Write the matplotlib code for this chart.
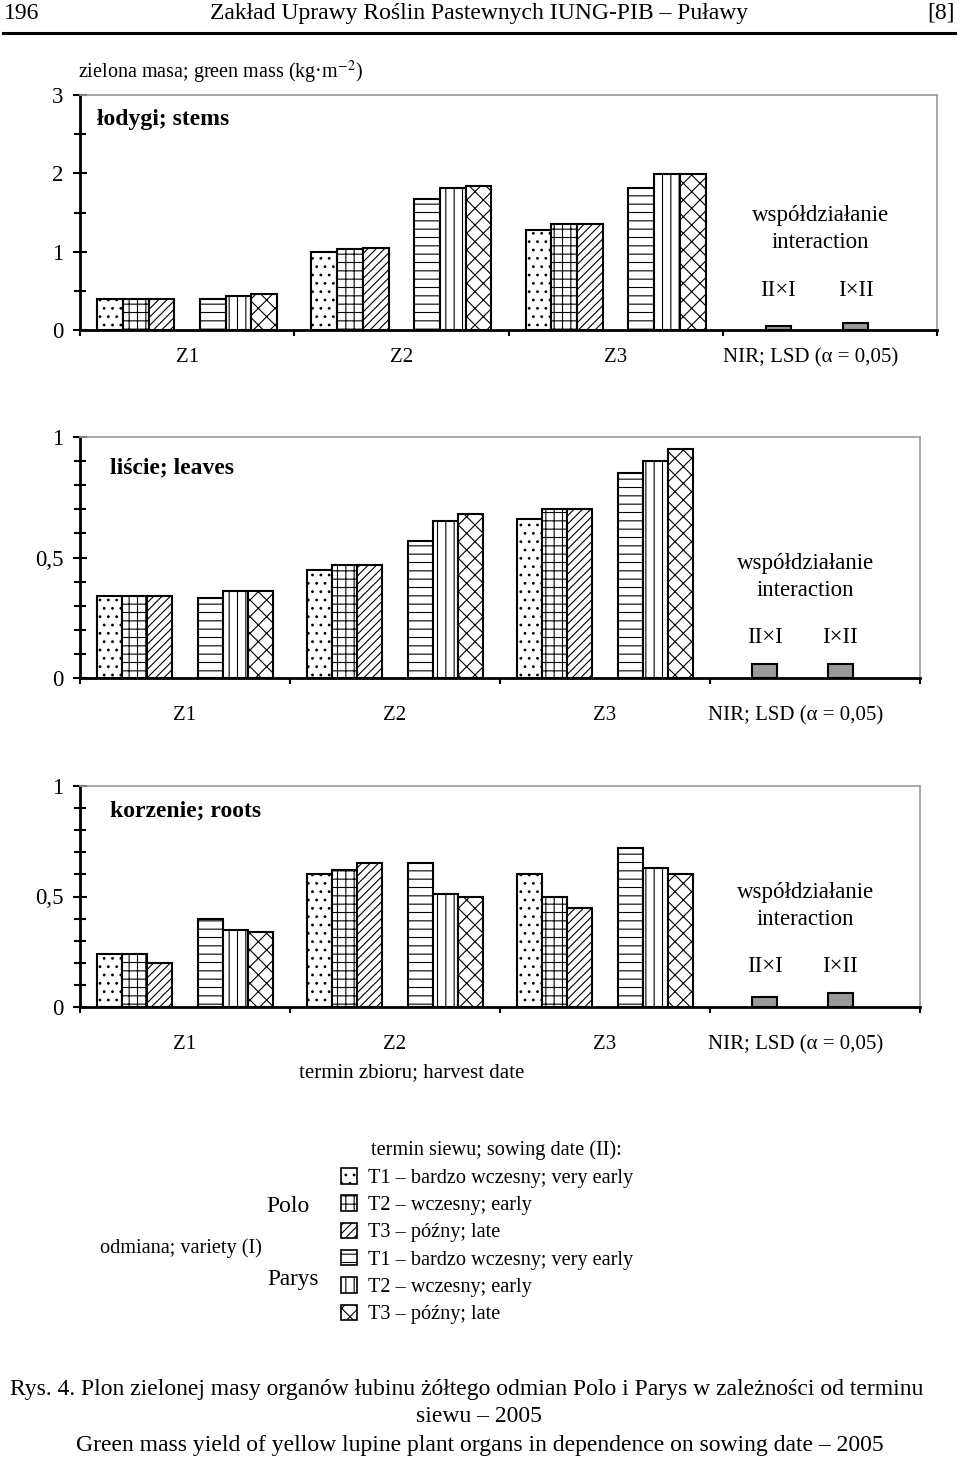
import numpy as np
import matplotlib
matplotlib.use("Agg")
import matplotlib.pyplot as plt
from matplotlib.lines import Line2D
from matplotlib.patches import Patch

plt.rcParams['font.family'] = ['Liberation Serif', 'DejaVu Serif']
plt.rcParams['mathtext.fontset'] = 'stix'
plt.rcParams['hatch.linewidth'] = 0.8

# Data (kg per m2), one list per sowing series, values for Z1, Z2, Z3
harvest = ['Z1', 'Z2', 'Z3']
series = ['T1 – bardzo wczesny; very early', 'T2 – wczesny; early', 'T3 – późny; late',
          'T1 – bardzo wczesny; very early', 'T2 – wczesny; early', 'T3 – późny; late']
hatches = ['..', '++', '////', '--', '||', 'xx']

stems = [[0.40, 1.00, 1.28],
         [0.40, 1.03, 1.35],
         [0.40, 1.05, 1.35],
         [0.40, 1.67, 1.81],
         [0.43, 1.81, 1.99],
         [0.46, 1.84, 1.99]]
leaves = [[0.34, 0.45, 0.66],
          [0.34, 0.47, 0.70],
          [0.34, 0.47, 0.70],
          [0.33, 0.57, 0.85],
          [0.36, 0.65, 0.90],
          [0.36, 0.68, 0.95]]
roots = [[0.24, 0.60, 0.60],
         [0.24, 0.62, 0.50],
         [0.20, 0.65, 0.45],
         [0.40, 0.65, 0.72],
         [0.35, 0.51, 0.63],
         [0.34, 0.50, 0.60]]

lsd_labels = ['II×I', 'I×II']
lsd_stems = [0.055, 0.085]
lsd_leaves = [0.057, 0.057]
lsd_roots = [0.044, 0.062]

w = 0.12
offsets = np.array([-3, -2, -1, 1, 2, 3]) * w
lsd_offsets = np.array([-2, 1]) * w

fig = plt.figure(figsize=(9.6, 14.62), dpi=100)
W, H = 960.0, 1462.0


def panel(rect, values, lsd, ymax, major, major_lbl, minor, title, title_pos,
          inter_y, xpad):
    ax = fig.add_axes(rect)
    x = np.arange(len(harvest))
    for i in range(6):
        ax.bar(x + offsets[i], values[i], width=w, color='white', edgecolor='black',
               hatch=hatches[i], linewidth=1.5, zorder=3)
    ax.bar(3 + lsd_offsets, lsd, width=w, color='#9a9a9a', edgecolor='black',
           linewidth=1.5, zorder=3)

    ax.set_xlim(-0.5, 3.5)
    ax.set_ylim(0, ymax)
    ax.set_yticks(major)
    ax.set_yticklabels(major_lbl, fontsize=16.5)
    ax.set_yticks(minor, minor=True)
    ax.tick_params(axis='y', which='major', direction='inout', length=10, width=1.5, pad=7)
    ax.tick_params(axis='y', which='minor', direction='inout', length=8.5, width=1.5)

    ax.set_xticks([-0.5, 0.5, 1.5, 2.5, 3.5], minor=True)
    ax.set_xticks([0, 1, 2, 2.91])
    ax.set_xticklabels(harvest + ['NIR; LSD (α = 0,05)'], fontsize=15)
    ax.tick_params(axis='x', which='major', length=0, pad=xpad)
    ax.tick_params(axis='x', which='minor', direction='out', length=4, width=1.5)

    for s in ['left', 'bottom']:
        ax.spines[s].set_linewidth(2)
    for s in ['top', 'right']:
        ax.spines[s].set_color('#9a9a9a')
        ax.spines[s].set_linewidth(1.2)

    ax.text(title_pos[0], title_pos[1], title, transform=ax.transAxes,
            fontsize=17, fontweight='bold', va='center', ha='left')
    tr = ax.get_xaxis_transform()
    ax.text(3 - 0.045, inter_y[0], 'współdziałanie', transform=tr, fontsize=16.5,
            ha='center', va='center')
    ax.text(3 - 0.045, inter_y[1], 'interaction', transform=tr, fontsize=16.5,
            ha='center', va='center')
    for k in range(2):
        ax.text(3 + lsd_offsets[k], inter_y[2], lsd_labels[k], transform=tr,
                fontsize=16.5, ha='center', va='center')
    return ax


def rect(left, right, top, bottom):
    return [left / W, 1 - bottom / H, (right - left) / W, (bottom - top) / H]


panel(rect(80, 937, 95, 330), stems, lsd_stems, 3, [0, 1, 2, 3], ['0', '1', '2', '3'],
      [0.5, 1.5, 2.5], 'łodygi; stems', (0.02, 0.894), (0.489, 0.374, 0.170), 13)
panel(rect(80, 920, 437, 678), leaves, lsd_leaves, 1, [0, 0.5, 1], ['0', '0,5', '1'],
      np.arange(0.1, 1.0, 0.1), 'liście; leaves', (0.036, 0.871), (0.477, 0.361, 0.166), 20)
panel(rect(80, 920, 786, 1007), roots, lsd_roots, 1, [0, 0.5, 1], ['0', '0,5', '1'],
      np.arange(0.1, 1.0, 0.1), 'korzenie; roots', (0.036, 0.887), (0.516, 0.394, 0.181), 20)

# y label and x label
fig.text(78 / W, 1 - 72 / H, 'zielona masa; green mass (kg·m$^{-2}$)', fontsize=14.5,
         va='center', ha='left')
fig.text(412 / W, 1 - 1073 / H, 'termin zbioru; harvest date', fontsize=15,
         va='center', ha='center')

# page header
fig.text(4 / W, 1 - 19 / H, '196', fontsize=17, va='baseline', ha='left')
fig.text(479 / W, 1 - 19 / H, 'Zakład Uprawy Roślin Pastewnych IUNG-PIB – Puławy',
         fontsize=17, va='baseline', ha='center')
fig.text(955 / W, 1 - 19 / H, '[8]', fontsize=17, va='baseline', ha='right')
fig.add_artist(Line2D([3 / W, 955 / W], [1 - 33 / H, 1 - 33 / H], lw=2.2, color='black'))

# legend
handles = [Patch(facecolor='white', edgecolor='black', hatch=h, linewidth=1.2) for h in hatches]
fig.legend(handles, series, loc='upper left', bbox_to_anchor=(341 / W, 1 - 1168 / H),
           frameon=False, fontsize=14.6, handlelength=0.8, handleheight=0.8,
           handletextpad=0.55, labelspacing=0.37, borderpad=0, borderaxespad=0)
fig.text(371 / W, 1 - 1150 / H, 'termin siewu; sowing date (II):', fontsize=14.6,
         va='center', ha='left')
fig.text(310 / W, 1 - 1207 / H, 'Polo', fontsize=17, va='center', ha='right')
fig.text(319 / W, 1 - 1279 / H, 'Parys', fontsize=16.7, va='center', ha='right')
fig.text(100 / W, 1 - 1248 / H, 'odmiana; variety (I)', fontsize=14.6, va='center', ha='left')

# caption
fig.text(467 / W, 1 - 1390 / H,
         'Rys. 4. Plon zielonej masy organów łubinu żółtego odmian Polo i Parys w zależności od terminu',
         fontsize=17, va='center', ha='center')
fig.text(479 / W, 1 - 1417 / H, 'siewu – 2005', fontsize=17, va='center', ha='center')
fig.text(480 / W, 1 - 1445 / H,
         'Green mass yield of yellow lupine plant organs in dependence on sowing date – 2005',
         fontsize=17, va='center', ha='center')

fig.savefig('out.png', dpi=100)
